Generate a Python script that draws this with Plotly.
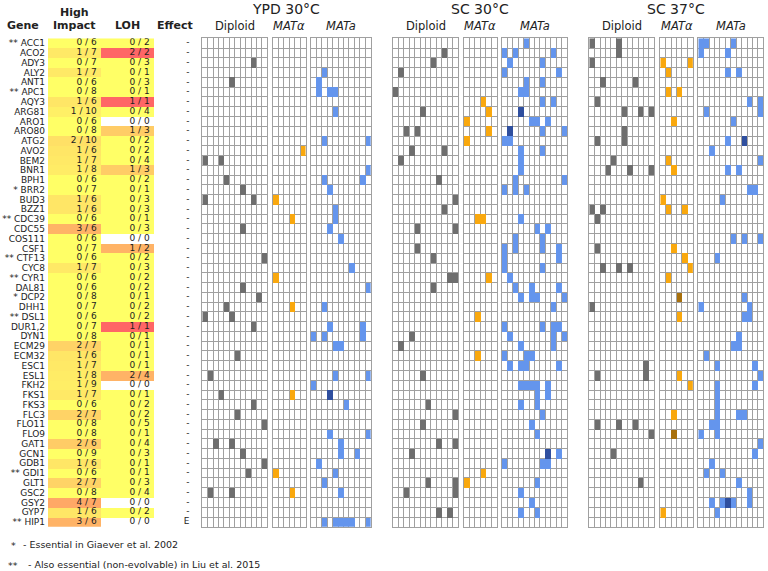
import numpy as np
import plotly.graph_objects as go

W, H = 768, 571
FONT = "DejaVu Sans"

# ---------------- data ----------------
GENES = ["ACC1", "ACO2", "ADY3", "ALY2", "ANT1", "APC1", "AQY3", "ARG81", "ARO1", "ARO80",
         "ATG2", "AVO2", "BEM2", "BNR1", "BPH1", "BRR2", "BUD3", "BZZ1", "CDC39", "CDC55",
         "COS111", "CSF1", "CTF13", "CYC8", "CYR1", "DAL81", "DCP2", "DHH1", "DSL1", "DUR1,2",
         "DYN1", "ECM29", "ECM32", "ESC1", "ESL1", "FKH2", "FKS1", "FKS3", "FLC3", "FLO11",
         "FLO9", "GAT1", "GCN1", "GDB1", "GDI1", "GLT1", "GSC2", "GSY2", "GYP7", "HIP1"]
ESSENTIAL = {"ACC1": "**", "APC1": "**", "BRR2": "*", "CDC39": "**", "CTF13": "**",
             "CYR1": "**", "DCP2": "*", "DSL1": "**", "GDI1": "**", "HIP1": "**"}

HIGH_IMPACT_HITS = [0, 1, 0, 1, 0, 0, 1, 1, 0, 0, 2, 1, 1, 1, 0, 0, 1, 1, 0, 3,
                    0, 0, 0, 1, 0, 0, 0, 0, 0, 0, 0, 2, 1, 1, 1, 1, 1, 0, 2, 0,
                    0, 2, 0, 1, 0, 2, 0, 4, 1, 3]
HIGH_IMPACT_TOTAL = [6, 7, 7, 7, 6, 8, 6, 10, 6, 8, 10, 6, 7, 8, 6, 7, 6, 6, 6, 6,
                     6, 7, 6, 7, 6, 6, 8, 7, 6, 7, 8, 7, 6, 7, 8, 9, 7, 6, 7, 8,
                     8, 6, 9, 6, 6, 7, 8, 7, 6, 6]
LOH_HITS = [0, 2, 0, 0, 0, 0, 1, 0, 0, 1, 0, 0, 0, 1, 0, 0, 0, 0, 0, 0,
            0, 1, 0, 0, 0, 0, 0, 0, 0, 1, 0, 0, 0, 0, 2, 0, 0, 0, 0, 0,
            0, 0, 0, 0, 0, 0, 0, 0, 0, 0]
LOH_TOTAL = [2, 2, 3, 1, 3, 1, 1, 4, 0, 3, 2, 2, 4, 3, 2, 1, 3, 3, 1, 3,
             0, 2, 2, 3, 2, 2, 1, 2, 2, 1, 1, 1, 1, 1, 4, 0, 1, 2, 2, 5,
             1, 4, 3, 1, 1, 3, 4, 0, 2, 0]
EFFECT = ["-", "-", "-", "-", "-", "-", "-", "-", "-", "-",
          "-", "-", "-", "-", "-", "-", "-", "-", "-", "-",
          "-", "-", "-", "-", "-", "-", "-", "-", "-", "-",
          "-", "-", "-", "-", "-", "-", "-", "-", "-", "-",
          "-", "-", "-", "-", "-", "-", "-", "-", "-", "E"]

# mutation cells per panel: (gene index, population column); *_DARK = two hits
YPD_DIPLOID = [(2, 9), (4, 5), (12, 0), (12, 3), (14, 4), (15, 7), (16, 0), (16, 9), (19, 7),
               (22, 11), (25, 7), (26, 10), (27, 4), (28, 0), (28, 5), (29, 9), (32, 6), (34, 1),
               (36, 3), (37, 9), (38, 6), (39, 11), (41, 2), (41, 5), (42, 7), (43, 11), (44, 8),
               (46, 1), (46, 5)]
YPD_ALPHA = [(11, 5), (16, 0), (18, 3), (24, 0), (27, 3), (36, 3), (44, 0), (46, 3)]
YPD_A = [(3, 2), (4, 1), (5, 1), (5, 3), (5, 4), (7, 4), (10, 2), (10, 10), (13, 10), (14, 2),
         (14, 9), (15, 3), (17, 4), (18, 4), (19, 3), (20, 5), (23, 7), (25, 10), (27, 2), (29, 3),
         (29, 9), (30, 9), (30, 0), (30, 2), (31, 4), (31, 5), (34, 4), (34, 10), (35, 0), (37, 6),
         (40, 3), (40, 10), (41, 5), (42, 5), (42, 8), (43, 1), (44, 4), (45, 2), (46, 5), (49, 2),
         (49, 4), (49, 5), (49, 6), (49, 7), (49, 10)]
YPD_A_DARK = [(36, 3)]

SC30_DIPLOID = [(1, 9), (2, 7), (3, 1), (5, 0), (7, 5), (9, 2), (9, 4), (11, 3), (11, 9), (12, 1),
                (14, 8), (16, 11), (17, 9), (19, 4), (19, 11), (21, 4), (22, 7), (24, 10), (24, 11),
                (25, 7), (30, 3), (31, 1), (34, 5), (37, 6), (38, 11), (39, 5), (41, 8), (41, 11),
                (42, 3), (45, 6), (45, 11), (46, 11), (46, 2), (48, 8), (48, 10)]
SC30_ALPHA = [(6, 3), (7, 4), (8, 0), (9, 4), (10, 0), (18, 2), (18, 3), (24, 4), (28, 2),
              (32, 2), (44, 3), (45, 0)]
SC30_A = [(0, 4), (1, 0), (1, 2), (1, 9), (2, 1), (2, 7), (3, 0), (3, 10), (4, 4), (5, 4), (4, 7),
          (5, 3), (6, 7), (6, 9), (8, 5), (8, 6), (8, 8), (9, 7), (9, 11), (10, 0), (10, 1),
          (11, 3), (12, 3), (13, 3), (11, 7), (14, 2), (15, 2), (14, 11), (15, 0), (15, 4), (18, 3),
          (19, 6), (19, 8), (20, 2), (21, 2), (20, 7), (21, 7), (21, 0), (22, 0), (23, 0), (21, 10),
          (22, 10), (23, 7), (24, 1), (25, 2), (25, 5), (26, 5), (25, 10), (26, 3), (26, 6),
          (26, 11), (27, 9), (29, 0), (29, 7), (29, 9), (29, 10), (30, 1), (30, 9), (31, 9),
          (30, 11), (31, 3), (32, 0), (32, 4), (32, 5), (33, 1), (33, 3), (33, 4), (33, 10),
          (35, 3), (35, 4), (35, 5), (35, 6), (35, 8), (36, 8), (36, 6), (37, 6), (37, 3), (38, 7),
          (39, 5), (40, 6), (42, 10), (43, 0), (43, 7), (43, 8), (45, 6), (46, 3), (47, 5),
          (48, 3), (48, 6)]
SC30_A_DARK = [(7, 3), (9, 1), (42, 8)]

SC37_DIPLOID = [(0, 0), (0, 5), (1, 5), (2, 0), (4, 2), (4, 8), (6, 1), (7, 6), (7, 9), (7, 11),
                (9, 6), (10, 6), (10, 1), (12, 4), (13, 3), (13, 7), (13, 11), (17, 0), (17, 2),
                (18, 1), (21, 1), (23, 2), (23, 5), (23, 7), (27, 0), (33, 10), (34, 10), (34, 1),
                (39, 1), (39, 5), (39, 8), (40, 11), (42, 4), (45, 9)]
SC37_ALPHA = [(2, 0), (2, 5), (3, 1), (5, 1), (5, 3), (8, 2), (12, 1), (13, 2), (16, 0), (17, 1),
              (17, 4), (21, 2), (22, 4), (23, 5), (24, 1), (28, 3), (34, 3), (35, 5), (38, 2),
              (48, 0)]
SC37_ALPHA_DARK = [(26, 3), (40, 2)]
SC37_A = [(0, 0), (0, 1), (0, 6), (1, 0), (1, 5), (3, 5), (3, 7), (6, 9), (6, 11), (7, 11),
          (7, 1), (8, 6), (10, 5), (11, 2), (12, 11), (13, 5), (13, 7), (15, 9), (15, 10),
          (16, 4), (20, 6), (20, 8), (20, 11), (22, 3), (26, 8), (27, 0), (27, 9), (28, 9),
          (28, 8), (30, 7), (31, 7), (31, 6), (32, 1), (33, 3), (33, 10), (34, 11), (35, 3),
          (36, 3), (37, 3), (38, 3), (39, 3), (40, 3), (35, 10), (38, 7), (38, 8), (39, 2),
          (40, 0), (41, 11), (42, 10), (43, 2), (44, 1), (44, 4), (45, 7), (46, 9), (47, 9),
          (47, 2), (47, 4), (47, 6), (48, 3)]
SC37_A_DARK = [(10, 8), (47, 5)]

CONDITIONS = ["YPD 30°C", "SC 30°C", "SC 37°C"]
PLOIDY = ["Diploid", "<i>MATα</i>", "<i>MATa</i>"]

# ---------------- styling / layout ----------------
GRAY, ORANGE, BLUE = "#6e6e6e", "#f9a80e", "#6495ed"
DARK = {GRAY: "#3a3a3a", ORANGE: "#a8700c", BLUE: "#2f4f9f"}
GRID = "#a0a0a0"
ROW_TOP, ROW_BOT = 38.3, 526.8
CW = 5.42  # px per population column

panels = [
    # condition, ploidy, left px, ncols, cells, dark cells, colour
    (0, 0, 202.3, 12, YPD_DIPLOID, [], GRAY),
    (0, 1, 273.0, 6, YPD_ALPHA, [], ORANGE),
    (0, 2, 311.0, 11, YPD_A, YPD_A_DARK, BLUE),
    (1, 0, 393.0, 12, SC30_DIPLOID, [], GRAY),
    (1, 1, 464.0, 6, SC30_ALPHA, [], ORANGE),
    (1, 2, 502.0, 12, SC30_A, SC30_A_DARK, BLUE),
    (2, 0, 589.3, 12, SC37_DIPLOID, [], GRAY),
    (2, 1, 660.3, 6, SC37_ALPHA, SC37_ALPHA_DARK, ORANGE),
    (2, 2, 698.3, 12, SC37_A, SC37_A_DARK, BLUE),
]

n = len(GENES)
ydom = [1 - ROW_BOT / H, 1 - ROW_TOP / H]
fig = go.Figure()
layout = dict(width=W, height=H, margin=dict(l=0, r=0, t=0, b=0),
              paper_bgcolor="white", plot_bgcolor="white", showlegend=False,
              font=dict(family=FONT, color="#222", size=9))

# ---- table (axis 1) ----
TX0, TX1 = 48.0, 207.0
hi_frac = [h / t for h, t in zip(HIGH_IMPACT_HITS, HIGH_IMPACT_TOTAL)]
loh_frac = [(h / t if t > 0 else np.nan) for h, t in zip(LOH_HITS, LOH_TOTAL)]
ztab = np.array([hi_frac, loh_frac]).T
fig.add_trace(go.Heatmap(z=ztab, x=[0, 1], y=list(range(n)), zmin=0, zmax=1,
                         colorscale=[[0, "rgb(255,255,102)"], [1, "rgb(255,102,102)"]],
                         showscale=False, hoverinfo="skip", xaxis="x", yaxis="y"))
fig.add_trace(go.Scatter(x=[0.42] * n, y=list(range(n)), mode="text",
                         text=[f"{h} / {t}" for h, t in zip(HIGH_IMPACT_HITS, HIGH_IMPACT_TOTAL)],
                         textposition="middle left", textfont=dict(size=9, color="#222"),
                         hoverinfo="skip", xaxis="x", yaxis="y"))
fig.add_trace(go.Scatter(x=[1.42] * n, y=list(range(n)), mode="text",
                         text=[f"{h} / {t}" for h, t in zip(LOH_HITS, LOH_TOTAL)],
                         textposition="middle left", textfont=dict(size=9, color="#222"),
                         hoverinfo="skip", xaxis="x", yaxis="y"))
fig.add_trace(go.Scatter(x=[2.17] * n, y=list(range(n)), mode="text", text=EFFECT,
                         textposition="middle left", textfont=dict(size=9, color="#222"),
                         hoverinfo="skip", xaxis="x", yaxis="y"))
layout["xaxis"] = dict(domain=[TX0 / W, TX1 / W], range=[-0.5, 2.5], showgrid=False,
                       zeroline=False, showticklabels=False, showline=False)
layout["yaxis"] = dict(domain=ydom, range=[n - 0.5, -0.5], showgrid=False, zeroline=False,
                       tickmode="array", tickvals=list(range(n)),
                       ticktext=[(ESSENTIAL[g] + " " + g) if g in ESSENTIAL else g for g in GENES],
                       tickfont=dict(size=9, color="#222"), ticks="", showline=False,
                       ticklabelstandoff=2)

# ---- mutation panels ----
for k, (cond, plo, left, ncol, cells, dark, col) in enumerate(panels):
    ax = k + 2
    z = np.full((n, ncol), np.nan)
    for r, c in cells:
        z[r, c] = 1
    for r, c in dark:
        z[r, c] = 2
    fig.add_trace(go.Heatmap(z=z, x=list(range(ncol)), y=list(range(n)), zmin=1, zmax=2,
                             colorscale=[[0, col], [0.5, col], [0.5, DARK[col]], [1, DARK[col]]],
                             showscale=False, hoverinfo="skip",
                             xaxis=f"x{ax}", yaxis=f"y{ax}"))
    right = left + ncol * CW
    layout[f"xaxis{ax}"] = dict(domain=[left / W, right / W], range=[-0.5, ncol - 0.5],
                                anchor=f"y{ax}", tickmode="array",
                                tickvals=[i + 0.5 for i in range(ncol - 1)],
                                showticklabels=False, ticks="", showgrid=True, gridcolor=GRID,
                                gridwidth=1, zeroline=False, showline=True, mirror=True,
                                linecolor=GRID, linewidth=1)
    layout[f"yaxis{ax}"] = dict(domain=ydom, range=[n - 0.5, -0.5], anchor=f"x{ax}",
                                tickmode="array", tickvals=[i + 0.5 for i in range(n - 1)],
                                showticklabels=False, ticks="", showgrid=True, gridcolor=GRID,
                                gridwidth=1, zeroline=False, showline=True, mirror=True,
                                linecolor=GRID, linewidth=1)

# ---- text annotations ----
ann = []
def A(text, xpx, ypx, size, bold=False, xanchor="center"):
    ann.append(dict(text=f"<b>{text}</b>" if bold else text, x=xpx / W, y=1 - ypx / H,
                    xref="paper", yref="paper", xanchor=xanchor, yanchor="middle",
                    showarrow=False, font=dict(family=FONT, size=size, color="#222")))

for cond in range(3):
    ps = [p for p in panels if p[0] == cond]
    x0 = ps[0][2]
    x1 = ps[-1][2] + ps[-1][3] * CW
    A(CONDITIONS[cond], (x0 + x1) / 2, 9.5, 14)
    for p in ps:
        A(PLOIDY[p[1]], p[2] + p[3] * CW / 2, 26.5, 11.5)

A("Gene", 23, 25, 11, bold=True)
A("High", 74.5, 12.7, 11, bold=True)
A("Impact", 74.5, 25, 11, bold=True)
A("LOH", 127.8, 25, 11, bold=True)
A("Effect", 174.5, 25, 11, bold=True)

A("*", 9, 545, 9.5, xanchor="left")
A("- Essential in Giaever et al. 2002", 20.5, 544, 9.5, xanchor="left")
A("**", 5.5, 565, 9.5, xanchor="left")
A("- Also essential (non-evolvable) in Liu et al. 2015", 26, 564, 9.5, xanchor="left")

layout["annotations"] = ann
fig.update_layout(**layout)
fig.write_html("out.html", config={"displayModeBar": False},
               post_script="document.body.style.margin='0';document.body.style.overflow='hidden';")
